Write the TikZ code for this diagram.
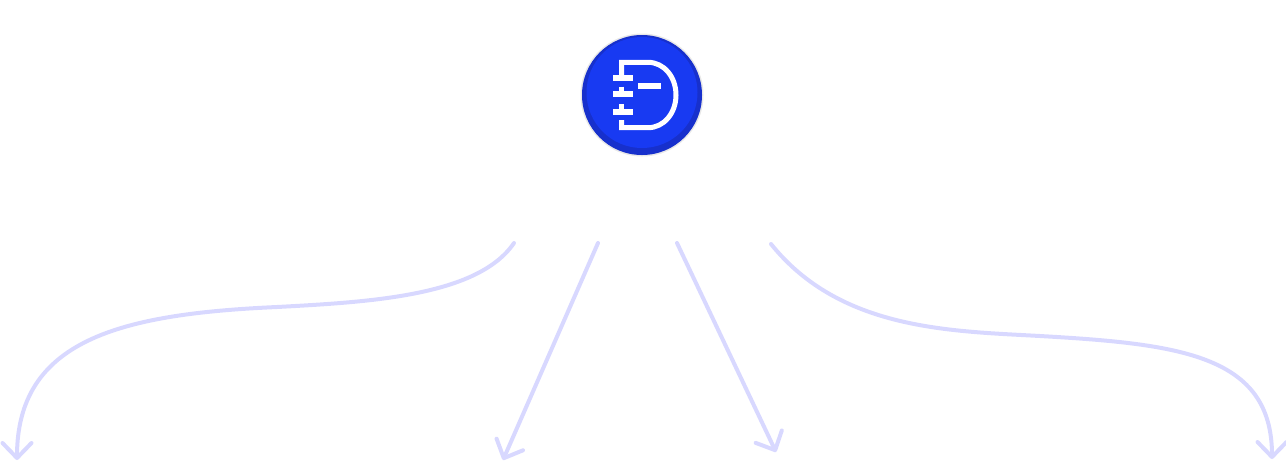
\documentclass[tikz,border=0pt]{standalone}
\usepackage{xcolor}
\usetikzlibrary{arrows.meta}
\definecolor{logoblue}{HTML}{183AF2}
\definecolor{logodark}{HTML}{1730CC}
\definecolor{arrlilac}{HTML}{D8D8FF}
\begin{document}
\begin{tikzpicture}[
  x=0.2mm, y=-0.2mm,
  disc/.style={circle, inner sep=0pt, minimum size=#1},
  glyph/.style={draw=white, line width=1mm},
  bar/.style={draw=white, line width=1.25mm},
  arr/.style={arrlilac, line width=0.8mm, line cap=round, line join=round,
    -{Straight Barb[length=3mm, width=5.8mm, round]}},
]
\useasboundingbox (0,0) rectangle (1286,462);

% logo
\node[disc=24.6mm, fill=black!9] (halo) at (642,95) {};
\node[disc=24mm, fill=logodark] (logo) at (642,95) {};
\node[disc=22.2mm, fill=logoblue] (face) at (642,92.5) {};
\draw[glyph] (621.7,75) -- (621.7,62.3) -- (648,62.3)
  .. controls (664,62.3) and (676,77) .. (676,95)
  .. controls (676,113) and (664,127.7) .. (648,127.7)
  -- (621.7,127.7) -- (621.7,120);
\draw[bar] (613.3,77.7) -- (632.7,77.7);
\draw[bar] (613.3,94.3) -- (632.7,94.3);
\draw[bar] (613.3,111.7) -- (632.7,111.7);
\draw[glyph] (621.7,86.7) -- (621.7,94);
\draw[glyph] (621.7,104.3) -- (621.7,111.7);
\draw[bar] (638.3,86) -- (660.7,86);

% free ends of the four arrows
\coordinate (s1) at (514,243);
\coordinate (s2) at (598,243);
\coordinate (s3) at (677,243);
\coordinate (s4) at (771,244);
\coordinate (m1) at (277,307);
\coordinate (m4) at (1040,336);
\coordinate (e1) at (17,460);
\coordinate (e2) at (503,460);
\coordinate (e3) at (776,452);
\coordinate (e4) at (1272,459);

% arrows, left to right
\draw[arr] (s1) .. controls (478,296) and (370,302) .. (m1)
  .. controls (120,314) and (17,340) .. (e1);
\draw[arr] (s2) -- (e2);
\draw[arr] (s3) -- (e3);
\draw[arr] (s4) .. controls (840,330) and (950,331) .. (m4)
  .. controls (1180,344) and (1272,355) .. (e4);
\end{tikzpicture}
\end{document}
